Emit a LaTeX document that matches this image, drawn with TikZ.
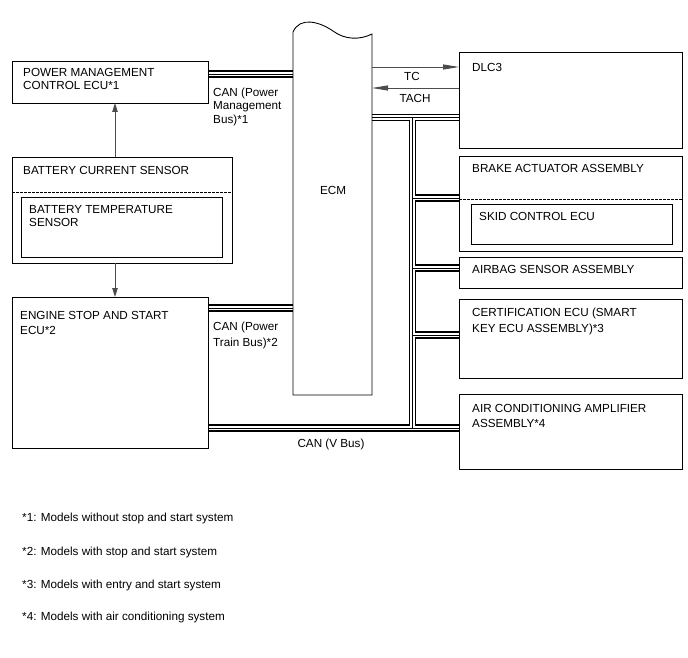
\documentclass[tikz,border=0pt]{standalone}
\usepackage{fontspec}
\setmainfont{Liberation Sans}
\usetikzlibrary{arrows.meta,backgrounds}

\begin{document}
\begin{tikzpicture}[x=1pt, y=-1pt,
  every node/.style={font=\fontsize{11.7}{15}\selectfont},
  unit/.style={draw, line width=0.9pt, rectangle, anchor=north west, inner sep=0pt, outer sep=0pt},
  txt/.style={anchor=north west, inner sep=0pt, align=left},
  sig/.style={black!70, line width=0.9pt},
  sep/.style={line width=0.9pt, dash pattern=on 2.5pt off 1.5pt}]
\useasboundingbox (0,0) rectangle (688,658);

% left side
\node[unit, minimum width=196pt, minimum height=42pt] (pm) at (12,61) {};
\node[unit, minimum width=220pt, minimum height=106pt] (bcs) at (12,157) {};
\node[unit, minimum width=201pt, minimum height=60pt] (bts) at (21,197) {};
\node[unit, minimum width=196pt, minimum height=151pt] (ess) at (12,297) {};
\draw[sep] (bcs.west |- 0,192) -- (bcs.east |- 0,192);

% ECM with torn top
\node[anchor=north west, inner sep=0pt, outer sep=0pt, minimum width=79pt, minimum height=364pt] (ecm) at (293,31) {};
\draw[line width=0.9pt] (ecm.south west) -- (293,32)
  .. controls (300,16) and (320,22) .. (333,31)
  .. controls (345,40) and (360,40) .. (372,34) -- (ecm.south east) -- cycle;

% right side
\node[unit, minimum width=223pt, minimum height=96pt] (dlc) at (459,52) {};
\node[unit, minimum width=223pt, minimum height=95pt] (brake) at (459,156) {};
\node[unit, minimum width=201pt, minimum height=40pt] (skid) at (471,204) {};
\node[unit, minimum width=223pt, minimum height=31pt] (airbag) at (459,257) {};
\node[unit, minimum width=223pt, minimum height=79pt] (cert) at (459,299) {};
\node[unit, minimum width=223pt, minimum height=75pt] (ac) at (459,394) {};
\draw[sep] (brake.west |- 0,199) -- (brake.east |- 0,199);

% texts
\node[txt, font=\fontsize{11.7}{13.5}\selectfont] (pmtxt) at (23,68) {POWER MANAGEMENT\\CONTROL ECU*1};
\node[txt] (bcstxt) at (23,166) {BATTERY CURRENT SENSOR};
\node[txt, font=\fontsize{11.7}{13.5}\selectfont] (btstxt) at (29,205) {BATTERY TEMPERATURE\\SENSOR};
\node[txt] (esstxt) at (20,311) {ENGINE STOP AND START\\ECU*2};
\node (ecmtxt) at (333,190) {ECM};
\node[txt] (dlctxt) at (472,63) {DLC3};
\node[txt] (braketxt) at (472,164) {BRAKE ACTUATOR ASSEMBLY};
\node[txt] (skidtxt) at (479,212) {SKID CONTROL ECU};
\node[txt] (airbagtxt) at (472,265) {AIRBAG SENSOR ASSEMBLY};
\node[txt, font=\fontsize{11.7}{15.5}\selectfont] (certtxt) at (472,308) {CERTIFICATION ECU (SMART\\KEY ECU ASSEMBLY)*3};
\node[txt, font=\fontsize{11.7}{15.5}\selectfont] (actxt) at (472,404) {AIR CONDITIONING AMPLIFIER\\ASSEMBLY*4};

% bus labels
\node[txt, font=\fontsize{11.7}{13.2}\selectfont] (canpm) at (213,88) {CAN (Power\\Management\\Bus)*1};
\node[txt, font=\fontsize{11.7}{16}\selectfont] (canpt) at (213,322) {CAN (Power\\Train Bus)*2};
\node[anchor=north, inner sep=0pt] (canv) at (331,439) {CAN (V Bus)};
\node[inner sep=0pt] (tc) at (412,76.5) {TC};
\node[inner sep=0pt] (tach) at (415,98.5) {TACH};

% signal lines
\draw[sig, -{Triangle[length=9pt,width=5.5pt]}] (bcs.north -| 115,0) -- (pm.south -| 115,0);
\draw[sig, -{Triangle[length=9pt,width=5.5pt]}] (bcs.south -| 115,0) -- (ess.north -| 115,0);
\draw[sig, -{Triangle[length=16pt,width=5pt]}] (ecm.east |- 0,67) -- (dlc.west |- 0,67);
\draw[sig, -{Triangle[length=16pt,width=5pt]}] (dlc.west |- 0,88) -- (ecm.east |- 0,88);

% CAN buses
\coordinate (ttop) at (412.5,117.5);
\coordinate (tbot) at (412.5,428);
\begin{scope}[on background layer]
\foreach \lw/\col in {7.8pt/black, 4.2pt/white, 0.7pt/black}
  \draw[line width=\lw, \col]
    (pm.east |- 0,74) -- (ecm.west |- 0,74)
    (ess.east |- 0,308) -- (ecm.west |- 0,308)
    (ess.east |- tbot) -- (ac.west |- tbot)
    (ecm.east |- ttop) -- (dlc.west |- ttop)
    (ttop) -- (tbot)
    (ttop |- 0,198) -- (brake.west |- 0,198)
    (ttop |- 0,268) -- (airbag.west |- 0,268)
    (ttop |- 0,335) -- (cert.west |- 0,335);
\end{scope}

% notes
\node[txt] (n1) at (22,513) {*1: Models without stop and start system};
\node[txt] (n2) at (22,547) {*2: Models with stop and start system};
\node[txt] (n3) at (22,580) {*3: Models with entry and start system};
\node[txt] (n4) at (22,612) {*4: Models with air conditioning system};
\end{tikzpicture}
\end{document}
